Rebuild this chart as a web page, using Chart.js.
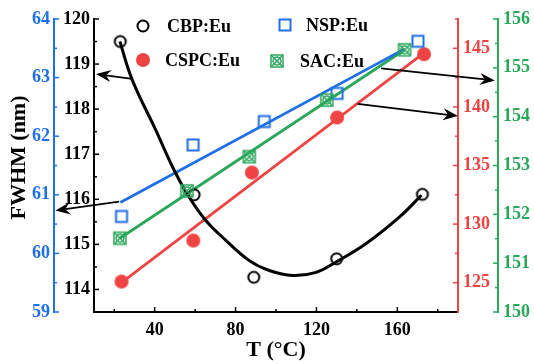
<!DOCTYPE html>
<html>
<head>
<meta charset="utf-8">
<title>FWHM vs temperature</title>
<script src="https://cdn.jsdelivr.net/npm/chart.js@4.4.0/dist/chart.umd.min.js"></script>
<style>
  html, body { margin: 0; padding: 0; background: #fff; }
  #wrap { width: 534px; height: 364px; }
</style>
</head>
<body>
<div id="wrap"><canvas id="myChart"></canvas></div>
<script>
// measured FWHM of each phosphor vs temperature
const cbpT = [23, 59.5, 89, 130, 172.4];
const cbpFwhm = [119.5, 116.1, 114.27, 114.68, 116.11];
const nspT = [23.6, 59, 94.2, 130.2, 170.2];
const nspFwhm = [60.63, 61.85, 62.25, 62.73, 63.62];
const cspcT = [23.6, 59.1, 88.1, 130.2, 173.2];
const cspcFwhm = [125.1, 128.6, 134.4, 139.1, 144.5];
const sacT = [22.8, 55.9, 86.8, 125.1, 163.6];
const sacFwhm = [151.51, 152.48, 153.18, 154.34, 155.37];

// fitted curves
const cbpCurveT = [22.8, 28.9, 40.5, 49.6, 57, 65.3, 75.2, 86.8, 96.7, 108.2, 119.8, 129.7, 144.6, 161.1, 171.9];
const cbpCurveFwhm = [119.5, 118.65, 117.54, 116.65, 116.05, 115.53, 115.09, 114.64, 114.42, 114.31, 114.38, 114.61, 115.02, 115.61, 116.09];
const nspFitT = [23, 163.6];
const nspFitFwhm = [60.87, 63.49];
const cspcFitT = [23.6, 173.2];
const cspcFitFwhm = [125.0, 144.6];
const sacFitT = [22.8, 163.6];
const sacFitFwhm = [151.51, 155.37];

// axis ticks
const xTicks = [40, 80, 120, 160];
const xMinor = [20, 60, 100, 140, 180];
const blackTicks = [114, 115, 116, 117, 118, 119, 120];
const blackMinor = [114.5, 115.5, 116.5, 117.5, 118.5, 119.5];
const blueTicks = [59, 60, 61, 62, 63, 64];
const blueMinor = [59.5, 60.5, 61.5, 62.5, 63.5];
const redTicks = [125, 130, 135, 140, 145];
const redMinor = [127.5, 132.5, 137.5, 142.5, 147.5];
const greenTicks = [150, 151, 152, 153, 154, 155, 156];
const greenMinor = [150.5, 151.5, 152.5, 153.5, 154.5, 155.5];

// arrows pointing each series to its axis: [T, FWHM] in that axis' units
const arrowNotes = [
  { scale: 'yBlack', from: [28.9, 118.67], to: [11, 118.78] },
  { scale: 'yBlue', from: [22.4, 60.885], to: [-9.1, 60.73] },
  { scale: 'yGreen', from: [152, 154.99], to: [208.2, 154.74] },
  { scale: 'yRed', from: [140.4, 140.25], to: [190, 139.22] }
];

const BLACK = '#000000';
const BLUE = '#1f6fe6';
const RED = '#ef4444';
const GREEN = '#2ba75c';
const FONT = "'Liberation Serif', 'Times New Roman', serif";

function pts(xs, ys) {
  return xs.map((x, i) => ({ x: x, y: ys[i] }));
}

// marker images, used both for the points and the legend
function makeMarker(size, draw) {
  const c = document.createElement('canvas');
  c.width = size;
  c.height = size;
  const g = c.getContext('2d');
  draw(g, size / 2);
  return c;
}

const circleMark = makeMarker(16, (g, m) => {
  g.strokeStyle = BLACK; g.lineWidth = 2;
  g.beginPath(); g.arc(m, m, 5.5, 0, Math.PI * 2); g.stroke();
});
const dotMark = makeMarker(16, (g, m) => {
  g.fillStyle = RED;
  g.beginPath(); g.arc(m, m, 7, 0, Math.PI * 2); g.fill();
});
const squareMark = makeMarker(16, (g, m) => {
  g.strokeStyle = BLUE; g.lineWidth = 2;
  g.strokeRect(m - 5.5, m - 5.5, 11, 11);
});
const crossMark = makeMarker(18, (g, m) => {
  g.strokeStyle = GREEN; g.lineWidth = 1.5;
  g.strokeRect(m - 6, m - 6, 12, 12);
  g.beginPath();
  g.moveTo(m - 6, m - 6); g.lineTo(m + 6, m + 6);
  g.moveTo(m + 6, m - 6); g.lineTo(m - 6, m + 6);
  g.stroke();
  g.beginPath(); g.arc(m, m, 4, 0, Math.PI * 2); g.stroke();
});

const legendItems = [
  { label: 'CBP:Eu', img: circleMark, dx: 49, dy: 7, tx: 73 },
  { label: 'NSP:Eu', img: squareMark, dx: 191, dy: 6, tx: 212 },
  { label: 'CSPC:Eu', img: dotMark, dx: 49, dy: 41, tx: 71 },
  { label: 'SAC:Eu', img: crossMark, dx: 183, dy: 42, tx: 206 }
];

const tickMarks = {
  x: [xTicks, xMinor],
  yBlack: [blackTicks, blackMinor],
  yBlue: [blueTicks, blueMinor],
  yRed: [redTicks, redMinor],
  yGreen: [greenTicks, greenMinor]
};

// ticks pointing into the plot, major and minor
const inwardTicks = {
  id: 'inwardTicks',
  afterDraw(chart) {
    const ctx = chart.ctx;
    Object.keys(tickMarks).forEach(id => {
      const scale = chart.scales[id];
      const major = tickMarks[id][0];
      const minor = tickMarks[id][1];
      ctx.save();
      ctx.strokeStyle = scale.options.border.color;
      ctx.lineWidth = 1.5;
      const mark = (v, len) => {
        const p = scale.getPixelForValue(v);
        ctx.beginPath();
        if (scale.position === 'bottom') {
          ctx.moveTo(p, scale.top); ctx.lineTo(p, scale.top - len);
        } else if (scale.position === 'left') {
          ctx.moveTo(scale.right, p); ctx.lineTo(scale.right + len, p);
        } else {
          ctx.moveTo(scale.left, p); ctx.lineTo(scale.left - len, p);
        }
        ctx.stroke();
      };
      major.forEach(v => mark(v, 5));
      minor.forEach(v => mark(v, 3));
      ctx.restore();
    });
  }
};

function drawArrow(ctx, x1, y1, x2, y2) {
  const ang = Math.atan2(y2 - y1, x2 - x1);
  const len = 15, half = 6, notch = 5;
  ctx.beginPath();
  ctx.moveTo(x1, y1);
  ctx.lineTo(x2 - Math.cos(ang) * (len - notch), y2 - Math.sin(ang) * (len - notch));
  ctx.stroke();
  ctx.save();
  ctx.translate(x2, y2);
  ctx.rotate(ang);
  ctx.beginPath();
  ctx.moveTo(0, 0);
  ctx.lineTo(-len, -half);
  ctx.lineTo(-len + notch, 0);
  ctx.lineTo(-len, half);
  ctx.closePath();
  ctx.fill();
  ctx.restore();
}

const notes = {
  id: 'notes',
  afterDraw(chart) {
    const ctx = chart.ctx;
    const xs = chart.scales.x;
    ctx.save();
    ctx.strokeStyle = BLACK;
    ctx.fillStyle = BLACK;
    ctx.lineWidth = 1.8;
    arrowNotes.forEach(a => {
      const ys = chart.scales[a.scale];
      drawArrow(ctx,
        xs.getPixelForValue(a.from[0]), ys.getPixelForValue(a.from[1]),
        xs.getPixelForValue(a.to[0]), ys.getPixelForValue(a.to[1]));
    });

    // legend, two rows inside the plot
    const area = chart.chartArea;
    ctx.font = 'bold 18px ' + FONT;
    ctx.textBaseline = 'middle';
    ctx.textAlign = 'left';
    legendItems.forEach(it => {
      const cx = area.left + it.dx;
      const cy = area.top + it.dy;
      ctx.drawImage(it.img, Math.round(cx - it.img.width / 2), Math.round(cy - it.img.height / 2));
      ctx.fillText(it.label, area.left + it.tx, cy + 1);
    });

    // y title, set a little above the middle of the axis
    const blue = chart.scales.yBlue;
    ctx.save();
    ctx.translate(blue.left + 19, (area.top + area.bottom) / 2 - 8);
    ctx.rotate(-Math.PI / 2);
    ctx.textAlign = 'center';
    ctx.font = 'bold 22px ' + FONT;
    ctx.fillText('FWHM (nm)', 0, 0);
    ctx.restore();
    ctx.restore();
  }
};

function yAxis(pos, weight, color, min, max, ticks, width, pad) {
  return {
    type: 'linear',
    position: pos,
    weight: weight,
    min: min,
    max: max,
    afterBuildTicks: s => { s.ticks = ticks.map(v => ({ value: v })); },
    afterFit: s => { s.width = width; },
    grid: { display: false, drawTicks: false },
    border: { display: true, color: color, width: 2 },
    ticks: { color: color, padding: pad, font: { family: FONT, size: 18, weight: 'bold' } }
  };
}

const ctx = document.getElementById('myChart');

new Chart(ctx, {
  type: 'scatter',
  data: {
    datasets: [
      { label: 'CBP:Eu', yAxisID: 'yBlack', data: pts(cbpT, cbpFwhm), pointStyle: circleMark, order: 1 },
      { label: 'NSP:Eu', yAxisID: 'yBlue', data: pts(nspT, nspFwhm), pointStyle: squareMark, order: 1 },
      { label: 'CSPC:Eu', yAxisID: 'yRed', data: pts(cspcT, cspcFwhm), pointStyle: dotMark, order: 1 },
      { label: 'SAC:Eu', yAxisID: 'yGreen', data: pts(sacT, sacFwhm), pointStyle: crossMark, order: 0 },
      { label: 'CBP fit', yAxisID: 'yBlack', data: pts(cbpCurveT, cbpCurveFwhm), showLine: true, pointRadius: 0,
        borderColor: BLACK, borderWidth: 3, tension: 0.4, order: 2 },
      { label: 'NSP fit', yAxisID: 'yBlue', data: pts(nspFitT, nspFitFwhm), showLine: true, pointRadius: 0,
        borderColor: BLUE, borderWidth: 2.8, order: 3 },
      { label: 'CSPC fit', yAxisID: 'yRed', data: pts(cspcFitT, cspcFitFwhm), showLine: true, pointRadius: 0,
        borderColor: RED, borderWidth: 2.8, order: 3 },
      { label: 'SAC fit', yAxisID: 'yGreen', data: pts(sacFitT, sacFitFwhm), showLine: true, pointRadius: 0,
        borderColor: GREEN, borderWidth: 2.8, order: 3 }
    ]
  },
  options: {
    responsive: true,
    maintainAspectRatio: false,
    devicePixelRatio: 1,
    animation: false,
    layout: { padding: { top: 19, left: 0, right: 0, bottom: 0 } },
    plugins: { legend: { display: false }, tooltip: { enabled: false } },
    scales: {
      x: {
        type: 'linear',
        position: 'bottom',
        min: 10,
        max: 190,
        afterBuildTicks: s => { s.ticks = xTicks.map(v => ({ value: v })); },
        afterFit: s => { s.height = 52; },
        grid: { display: false, drawTicks: false },
        border: { display: true, color: BLACK, width: 2 },
        ticks: { color: BLACK, padding: 8, maxRotation: 0, font: { family: FONT, size: 18, weight: 'bold' } },
        title: { display: true, text: 'T (°C)', color: BLACK, padding: 0, font: { family: FONT, size: 22, weight: 'bold' } }
      },
      yBlack: yAxis('left', 0, BLACK, 113.5, 120, blackTicks, 40, 4),
      yBlue: yAxis('left', 1, BLUE, 59, 64, blueTicks, 54, 4),
      yRed: yAxis('right', 0, RED, 122.5, 147.5, redTicks, 40, 5),
      yGreen: yAxis('right', 1, GREEN, 150, 156, greenTicks, 36, 5)
    }
  },
  plugins: [inwardTicks, notes]
});
</script>
</body>
</html>
